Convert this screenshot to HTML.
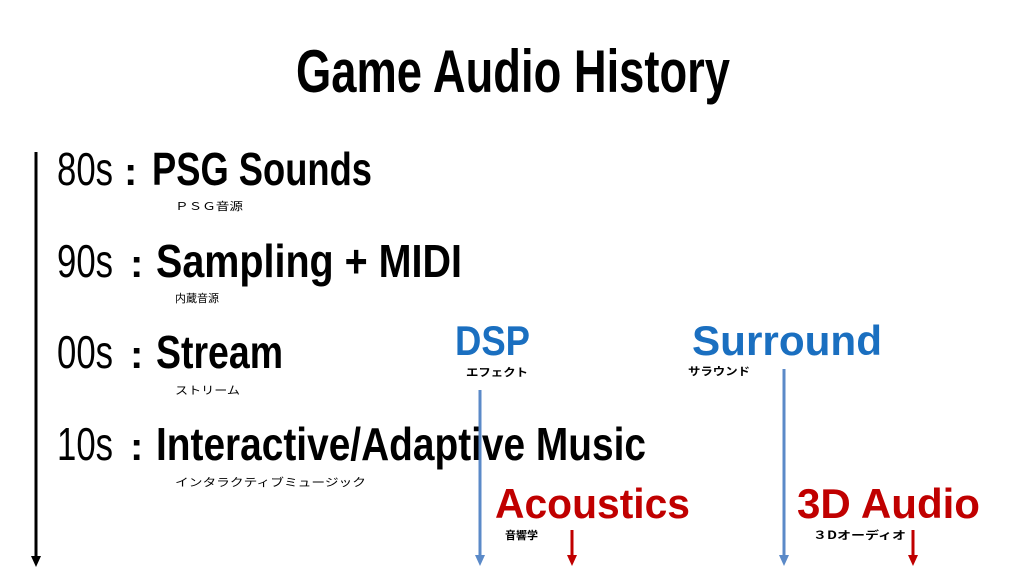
<!DOCTYPE html>
<html><head><meta charset="utf-8"><style>
html,body{margin:0;padding:0;background:#fff;}
svg{display:block}
.c{font-family:"Liberation Sans","Noto Sans CJK JP",sans-serif;}
.j{font-family:"Noto Sans CJK JP",sans-serif;font-size:11px;fill:#000;}
</style></head><body>
<svg width="1024" height="576" viewBox="0 0 1024 576" xmlns="http://www.w3.org/2000/svg">
<defs>
<marker id="ab" markerWidth="4" markerHeight="4" refX="2" refY="3" orient="auto" markerUnits="strokeWidth"><path d="M0,0 L4,0 L2,3.5z" fill="#000"/></marker>
</defs>
<g class="c">
<text x="296" y="92" font-size="60" font-weight="bold" textLength="434" lengthAdjust="spacingAndGlyphs">Game Audio History</text>

<text x="57" y="185" font-size="46" textLength="56" lengthAdjust="spacingAndGlyphs">80s</text>
<text x="124" y="185" font-size="40" font-weight="bold">:</text>
<text x="152" y="185" font-size="46" font-weight="bold" textLength="220" lengthAdjust="spacingAndGlyphs">PSG Sounds</text>

<text x="57" y="277" font-size="46" textLength="56" lengthAdjust="spacingAndGlyphs">90s</text>
<text x="130" y="277" font-size="40" font-weight="bold">:</text>
<text x="156" y="277" font-size="46" font-weight="bold" textLength="306" lengthAdjust="spacingAndGlyphs">Sampling + MIDI</text>

<text x="57" y="368" font-size="46" textLength="56" lengthAdjust="spacingAndGlyphs">00s</text>
<text x="130" y="368" font-size="40" font-weight="bold">:</text>
<text x="156" y="368" font-size="46" font-weight="bold" textLength="127" lengthAdjust="spacingAndGlyphs">Stream</text>

<text x="57" y="460" font-size="46" textLength="56" lengthAdjust="spacingAndGlyphs">10s</text>
<text x="130" y="460" font-size="40" font-weight="bold">:</text>
<text x="156" y="460" font-size="46" font-weight="bold" textLength="490" lengthAdjust="spacingAndGlyphs">Interactive/Adaptive Music</text>
</g>
<text class="j" x="175" y="210" textLength="68" lengthAdjust="spacingAndGlyphs">ＰＳＧ音源</text>
<text class="j" x="175" y="302">内蔵音源</text>
<text class="j" x="175" y="394" textLength="65" lengthAdjust="spacingAndGlyphs">ストリーム</text>
<text class="j" x="175" y="486" textLength="191" lengthAdjust="spacingAndGlyphs">インタラクティブミュージック</text>

<line x1="36" y1="152" x2="36" y2="560" stroke="#000" stroke-width="3"/>
<path d="M31,556 L41,556 L36,567z" fill="#000"/>

<g class="c" font-weight="bold" font-size="42">
<text x="455" y="355" fill="#1a6fc0" textLength="75" lengthAdjust="spacingAndGlyphs">DSP</text>
<text x="692" y="355" fill="#1a6fc0" textLength="190" lengthAdjust="spacingAndGlyphs">Surround</text>
<text x="495" y="518" fill="#c00000" textLength="195" lengthAdjust="spacingAndGlyphs">Acoustics</text>
<text x="797" y="518" fill="#c00000" textLength="183" lengthAdjust="spacingAndGlyphs">3D Audio</text>
</g>
<text class="j" x="466" y="376" font-weight="bold" textLength="62" lengthAdjust="spacingAndGlyphs">エフェクト</text>
<text class="j" x="688" y="375" font-weight="bold" textLength="62" lengthAdjust="spacingAndGlyphs">サラウンド</text>
<text class="j" x="505" y="539" font-weight="bold">音響学</text>
<text class="j" x="813" y="539" font-weight="bold" textLength="93" lengthAdjust="spacingAndGlyphs">３Dオーディオ</text>

<line x1="480" y1="390" x2="480" y2="558" stroke="#5b8ac8" stroke-width="3"/>
<path d="M475,555 L485,555 L480,566z" fill="#5b8ac8"/>
<line x1="784" y1="369" x2="784" y2="558" stroke="#5b8ac8" stroke-width="3"/>
<path d="M779,555 L789,555 L784,566z" fill="#5b8ac8"/>
<line x1="572" y1="530" x2="572" y2="558" stroke="#c00000" stroke-width="3"/>
<path d="M567,555 L577,555 L572,566z" fill="#c00000"/>
<line x1="913" y1="530" x2="913" y2="558" stroke="#c00000" stroke-width="3"/>
<path d="M908,555 L918,555 L913,566z" fill="#c00000"/>
</svg>
</body></html>
